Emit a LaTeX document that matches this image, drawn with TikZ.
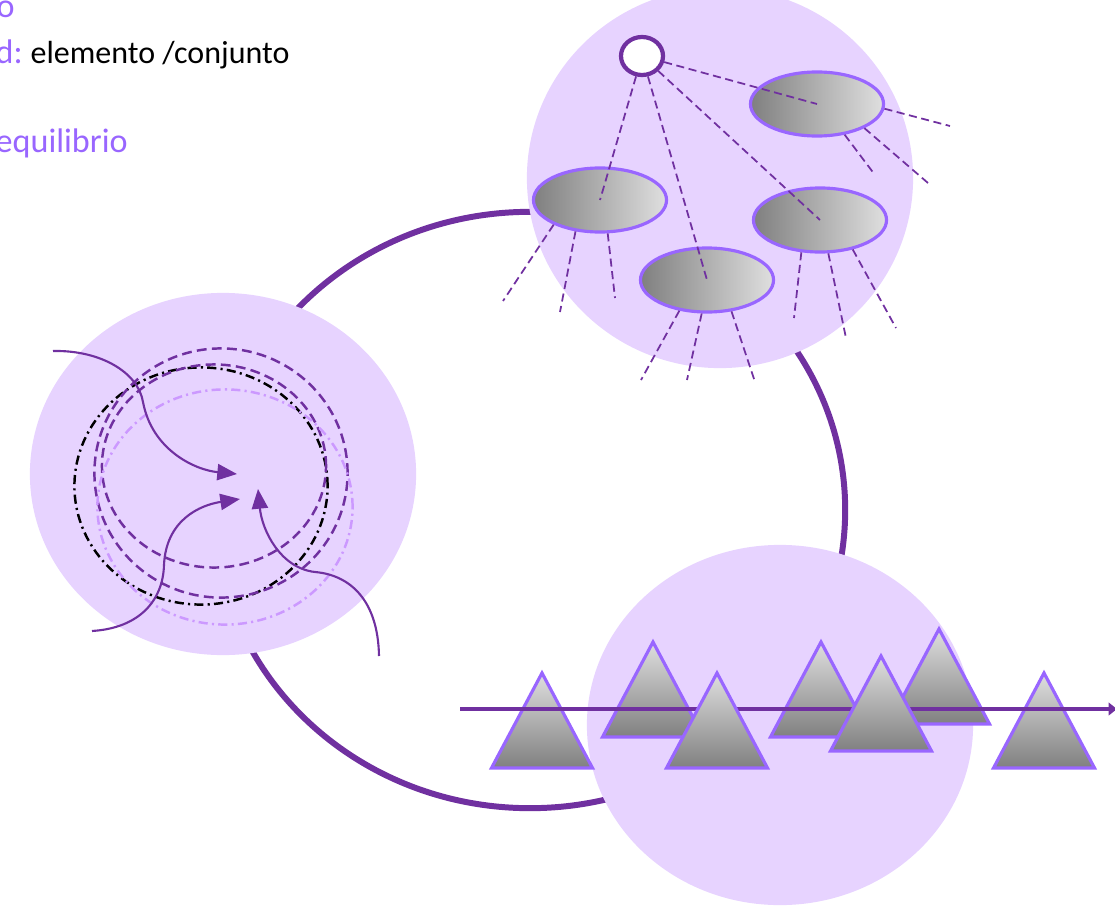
\documentclass[tikz,border=0pt]{standalone}
\usepackage{fontspec}
\setmainfont{Carlito}
\usetikzlibrary{arrows.meta,shapes.geometric}
\definecolor{ringpurple}{HTML}{7030A0}
\definecolor{lilac}{HTML}{9966FF}
\definecolor{bubblefill}{HTML}{E7D3FF}
\definecolor{paleline}{HTML}{CC99FF}
\tikzset{
  bubble/.style={fill=bubblefill},
  cell/.style={ellipse, draw=lilac, line width=0.9pt, left color=gray, right color=gray!25,
    minimum width=1.33cm, minimum height=0.64cm, inner sep=0pt},
  ray/.style={ringpurple, line width=0.5pt, dash pattern=on 2.3pt off 1.3pt},
  peak/.style={draw=lilac, line width=0.9pt, top color=gray!25, bottom color=gray},
  inflow/.style={ringpurple, line width=0.6pt, -{Triangle[length=5.6pt,width=4.6pt]}},
  label/.style={anchor=base west, inner sep=0pt, font=\fontsize{9.7}{11}\selectfont},
}
\begin{document}
\begin{tikzpicture}[x=0.01cm, y=-0.01cm]
\useasboundingbox (0,0) rectangle (1115,906);

% Draw big ring
\draw[ringpurple, line width=1.7pt] (530,510) ellipse [x radius=3.15cm, y radius=2.98cm];

% Draw bubbles
\fill[bubble] (720,178) ellipse [x radius=1.93cm, y radius=1.90cm];
\fill[bubble] (223,474) ellipse [x radius=1.93cm, y radius=1.81cm];
\fill[bubble] (780,725) ellipse [x radius=1.93cm, y radius=1.80cm];

% Top bubble: set of elements
\node[cell] (cellA) at (817,104) {};
\node[cell] (cellB) at (600,200) {};
\node[cell] (cellC) at (707,280) {};
\node[cell] (cellD) at (820,220) {};
\node[ellipse, draw=ringpurple, line width=1.2pt, fill=white, minimum width=0.42cm,
  minimum height=0.38cm, inner sep=0pt] (src) at (642,56) {};

\draw[ray] (src) -- (cellA.center);
\draw[ray] (src) -- (cellB.center);
\draw[ray] (src) -- (cellC.center);
\draw[ray] (src) -- (cellD.center);

\draw[ray] (cellA.-4) -- (950,126);
\draw[ray] (cellA.-27) -- (928,183);
\draw[ray] (cellA.-48) -- (875,175);
\draw[ray] (cellB.208) -- (503,301);
\draw[ray] (cellB.232) -- (560,312);
\draw[ray] (cellB.283) -- (615,298);
\draw[ray] (cellC.228) -- (641,380);
\draw[ray] (cellC.261) -- (687,380);
\draw[ray] (cellC.308) -- (755,382);
\draw[ray] (cellD.240) -- (794,318);
\draw[ray] (cellD.284) -- (846,338);
\draw[ray] (cellD.318) -- (896,328);

% Left bubble: equilibrium rings
\draw[black, line width=0.7pt, dash pattern=on 2.6pt off 1.2pt on 0.6pt off 1.2pt]
  (201,486) ellipse [x radius=1.265cm, y radius=1.185cm];
\draw[ringpurple, line width=0.7pt, dash pattern=on 2.8pt off 1.5pt]
  (221,473) ellipse [x radius=1.265cm, y radius=1.245cm];
\draw[ringpurple, line width=0.7pt, dash pattern=on 2.8pt off 1.5pt]
  (214,466) ellipse [x radius=1.12cm, y radius=1.015cm];
\draw[paleline, line width=0.7pt, dash pattern=on 2.6pt off 1.2pt on 0.6pt off 1.2pt]
  (225,507) ellipse [x radius=1.275cm, y radius=1.175cm];

\coordinate (inA) at (53,351);
\coordinate (inB) at (92,631);
\coordinate (inC) at (379,656);
\coordinate (hubA) at (237,474);
\coordinate (hubB) at (240,499);
\coordinate (hubC) at (258,489);

\draw[inflow] (inA) .. controls (100,350) and (138,372) .. (143,402)
  .. controls (152,450) and (195,470) .. (hubA);
\draw[inflow] (inB) .. controls (140,628) and (163,600) .. (164,565)
  .. controls (166,520) and (200,505) .. (hubB);
\draw[inflow] (inC) .. controls (378,600) and (350,575) .. (315,572)
  .. controls (280,568) and (262,530) .. (hubC);

% Bottom bubble: peaks along the time line
\coordinate (flowS) at (460,709);
\coordinate (flowE) at (1117,709);
\shade[peak] (542,673) -- ++(-50.5,95) -- ++(101,0) -- cycle;
\shade[peak] (653,642) -- ++(-50.5,95) -- ++(101,0) -- cycle;
\shade[peak] (821,642) -- ++(-50.5,95) -- ++(101,0) -- cycle;
\shade[peak] (939,629) -- ++(-50.5,95) -- ++(101,0) -- cycle;
\shade[peak] (1044,673) -- ++(-50.5,95) -- ++(101,0) -- cycle;
\draw[ringpurple, line width=0.9pt, -{Triangle[length=2.4pt,width=3.6pt]}] (flowS) -- (flowE);
\shade[peak] (717,673) -- ++(-50.5,95) -- ++(101,0) -- cycle;
\shade[peak] (881,656) -- ++(-50.5,95) -- ++(101,0) -- cycle;

% Text at top left
\node[label, text=lilac] (head) at (-4,18) {o};
\node[label, text=lilac] (unit) at (-5,63) {d:};
\node[label, font=\fontsize{9.1}{11}\selectfont] (unitval) at (30,63) {elemento /conjunto};
\node[label, text=lilac] (state) at (-5,152) {equilibrio};

\end{tikzpicture}
\end{document}
